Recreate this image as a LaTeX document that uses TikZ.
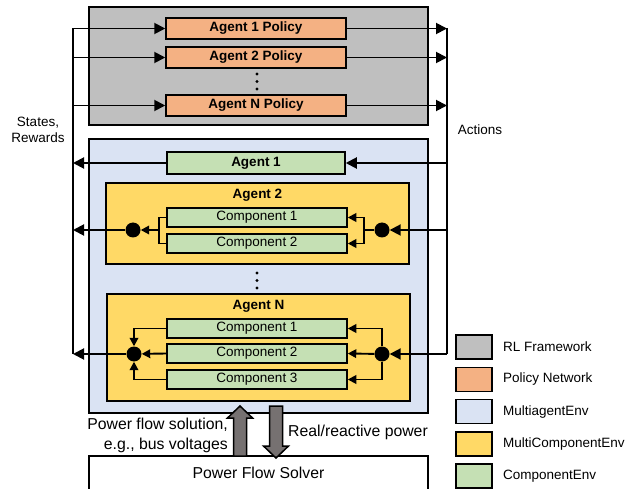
\documentclass[tikz,border=0pt]{standalone}
\usepackage{fontspec}
\setmainfont{Liberation Sans}
\usetikzlibrary{arrows.meta}

\definecolor{rlgray}{HTML}{BFBFBF}
\definecolor{polorange}{HTML}{F4B183}
\definecolor{envblue}{HTML}{DAE3F3}
\definecolor{agyellow}{HTML}{FFD966}
\definecolor{compgreen}{HTML}{C5E0B4}
\definecolor{pfgray}{HTML}{767171}

\newcommand{\basefont}{\fontsize{13.5}{16}\selectfont}
\newcommand{\pffont}{\fontsize{15.8}{19}\selectfont}

\tikzset{
  box/.style={draw, line width=1.5pt, inner sep=0pt},
  policy/.style={box, fill=polorange, minimum width=180pt, minimum height=21pt, font=\basefont\bfseries},
  comp/.style={box, fill=compgreen, minimum width=180pt, minimum height=19pt},
  junction/.style={circle, fill, inner sep=0pt, minimum size=15pt},
  line/.style={line width=1.9pt},
  conn/.style={line, -{Triangle[length=11pt,width=11pt]}},
  inconn/.style={line, -{Triangle[length=8.5pt,width=8.5pt]}},
  legbox/.style={box, minimum width=36pt, minimum height=24pt},
  bigarrow/.style={draw, line width=1.5pt, fill=pfgray}
}

\begin{document}
\begin{tikzpicture}[x=1pt, y=-1pt, font=\basefont]
  \useasboundingbox (0,0) rectangle (635,489);

  % Containers
  \node[box, fill=rlgray, minimum width=339pt, minimum height=118pt] (rl) at (258.5,66) {};
  \node[box, fill=envblue, minimum width=339pt, minimum height=274pt] (menv) at (258.5,276) {};
  \node[box, fill=agyellow, minimum width=303pt, minimum height=81pt] (ag2) at (257.5,223.5) {};
  \node[box, fill=agyellow, minimum width=303pt, minimum height=107pt] (agN) at (258.5,347.5) {};
  \node[box, fill=white, minimum width=339pt, minimum height=50pt] (solver) at (258.5,481) {};

  % Policies
  \node[policy] (pol1) at (256,28.5) {Agent 1 Policy};
  \node[policy] (pol2) at (256,57.5) {Agent 2 Policy};
  \node[policy] (polN) at (256,105.5) {Agent N Policy};
  \foreach \y in {74,81.5,89} \fill (257,\y) circle (1.7);

  % Agents and components
  \node[box, fill=compgreen, minimum width=178pt, minimum height=22pt, font=\basefont\bfseries] (ag1) at (256,163) {Agent 1};
  \node[font=\basefont\bfseries] (ag2title) at (257.5,195) {Agent 2};
  \node[comp] (c21) at (257,217.5) {Component 1};
  \node[comp] (c22) at (257,243.5) {Component 2};
  \foreach \y in {273,280.5,288} \fill (257,\y) circle (1.7);
  \node[font=\basefont\bfseries] (agNtitle) at (258.5,306) {Agent N};
  \node[comp] (cN1) at (257,328.5) {Component 1};
  \node[comp] (cN2) at (257,353.5) {Component 2};
  \node[comp] (cN3) at (257,379.5) {Component 3};

  % Junctions
  \node[junction] (dl2) at (133,230) {};
  \node[junction] (dr2) at (382,230) {};
  \node[junction] (dlN) at (134,354) {};
  \node[junction] (drN) at (382,354) {};
  \coordinate (jl2) at (159,230);
  \coordinate (jr2) at (364,230);

  % Buses
  \coordinate (sbus) at (73,0);
  \coordinate (abus) at (447,0);
  \draw[line] (sbus |- pol1) -- (sbus |- dlN);
  \draw[line] (abus |- pol1) -- (abus |- drN);

  % States, rewards into policies
  \foreach \p in {pol1,pol2,polN} {
    \draw[conn] (sbus |- \p) -- (\p.west);
    \draw[conn] (\p.east) -- (\p.east -| abus);
  }

  % Agent 1
  \draw[conn] (abus |- ag1) -- (ag1.east);
  \draw[conn] (ag1.west) -- (sbus |- ag1);

  % Agent 2
  \draw[conn] (abus |- dr2) -- (dr2);
  \draw[line] (dr2) -- (jr2);
  \draw[inconn] (jr2) |- (c21.east);
  \draw[inconn] (jr2) |- (c22.east);
  \draw[line] (c21.west) -| (jl2) |- (c22.west);
  \draw[inconn] (jl2) -- (dl2);
  \draw[conn] (dl2) -- (sbus |- dl2);

  % Agent N
  \draw[conn] (abus |- drN) -- (drN);
  \draw[inconn] (drN) |- (cN1.east);
  \draw[inconn] (drN) -- (cN2.east);
  \draw[inconn] (drN) |- (cN3.east);
  \draw[inconn] (cN1.west) -| (dlN);
  \draw[inconn] (cN2.west) -- (dlN);
  \draw[inconn] (cN3.west) -| (dlN);
  \draw[conn] (dlN) -- (sbus |- dlN);

  % Power flow arrows
  \draw[bigarrow] (233.5,456) -- (233.5,418) -- (227.5,418) -- (240,406)
    -- (252.5,418) -- (246.5,418) -- (246.5,456) -- cycle;
  \draw[bigarrow] (269.5,406) -- (269.5,446) -- (263.5,446) -- (276,458)
    -- (288.5,446) -- (282.5,446) -- (282.5,406) -- cycle;

  % Labels
  \node[align=center] (states) at (38,129.5) {States,\\Rewards};
  \node (actions) at (480,130) {Actions};
  \node[align=right, anchor=east, inner sep=0pt, font=\pffont] (pfsol) at (228,435) {Power flow solution,\\[1pt]e.g., bus voltages};
  \node[anchor=west, inner sep=0pt, font=\pffont] (pq) at (288,432) {Real/reactive power};
  \node[font=\pffont] (solvertxt) at (258.5,473) {Power Flow Solver};

  % Legend
  \foreach \c/\t [count=\i from 0] in {rlgray/RL Framework, polorange/Policy Network,
      envblue/MultiagentEnv, agyellow/MultiComponentEnv, compgreen/ComponentEnv} {
    \node[legbox, fill=\c] (leg\i) at (474,347+32.3*\i) {};
    \node[anchor=west, inner sep=0pt] (legtxt\i) at (503,347+32.3*\i) {\t};
  }
\end{tikzpicture}
\end{document}
